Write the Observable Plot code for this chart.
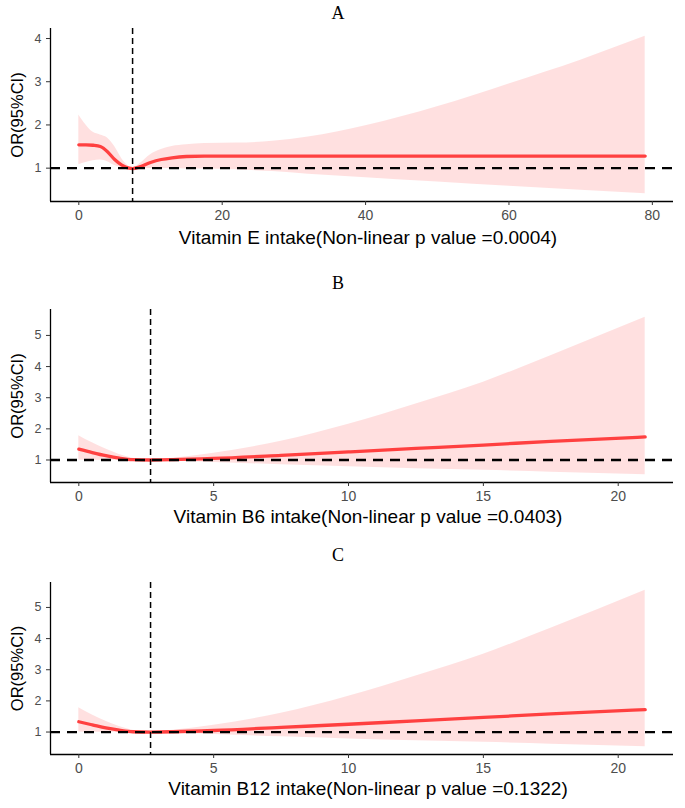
<!DOCTYPE html>
<html><head><meta charset="utf-8">
<script src="https://cdn.jsdelivr.net/npm/d3@7"></script>
<script src="https://cdn.jsdelivr.net/npm/@observablehq/plot@0.6"></script>
<style>body{margin:0;background:#fff} svg{display:block;overflow:visible}</style>
</head><body><div id="chart"></div>
<script>
// Panel A: Vitamin E
const aX  = [0, 1, 2, 3, 4, 5, 6, 7, 7.5, 8.5, 10, 11.5, 13, 15, 17.5, 22, 27, 32, 40, 50, 60, 70, 79];
const aOR = [1.54,1.54,1.53,1.50,1.38,1.20,1.07,1.00,0.99,1.03,1.13,1.20,1.24,1.27,1.28,1.28,1.28,1.28,1.28,1.28,1.28,1.28,1.28];
const aLo = [1.08,1.13,1.17,1.19,1.15,1.06,1.01,0.99,0.98,0.99,0.99,0.99,0.99,0.98,0.98,0.96,0.92,0.86,0.78,0.68,0.58,0.49,0.41];
const aHi = [2.23,2.00,1.83,1.77,1.70,1.50,1.22,1.04,1.00,1.10,1.31,1.43,1.50,1.54,1.57,1.58,1.62,1.72,1.98,2.42,2.95,3.50,4.05];
const aRef = 7.5;
// Panel B: Vitamin B6
const bX  = [0, 0.5, 1, 1.5, 2, 2.66, 3.5, 5, 7.5, 10, 12.5, 15, 17.5, 21];
const bOR = [1.35,1.24,1.14,1.06,1.01,1.00,1.01,1.05,1.15,1.26,1.37,1.48,1.60,1.74];
const bLo = [1.00,0.99,0.99,0.99,0.99,1.00,0.97,0.92,0.85,0.78,0.72,0.67,0.61,0.53];
const bHi = [1.78,1.55,1.35,1.18,1.06,1.00,1.06,1.22,1.60,2.15,2.80,3.50,4.35,5.58];
const bRef = 2.66;
// Panel C: Vitamin B12
const cX  = [0, 0.5, 1, 1.5, 2, 2.66, 3.5, 5, 7.5, 10, 12.5, 15, 17.5, 21];
const cOR = [1.33,1.23,1.13,1.06,1.01,1.00,1.01,1.05,1.15,1.25,1.36,1.47,1.58,1.72];
const cLo = [1.00,0.99,0.99,0.99,0.99,1.00,0.97,0.92,0.85,0.78,0.72,0.67,0.61,0.53];
const cHi = [1.78,1.55,1.35,1.18,1.06,1.00,1.06,1.22,1.60,2.15,2.80,3.50,4.33,5.55];
const cRef = 2.66;

const titles = ["A", "B", "C"];
const xLabels = [
  "Vitamin E intake(Non-linear p value =0.0004)",
  "Vitamin B6 intake(Non-linear p value =0.0403)",
  "Vitamin B12 intake(Non-linear p value =0.1322)"
];
const yLabel = "OR(95%CI)";
const aXTicks = [0, 20, 40, 60, 80], bXTicks = [0, 5, 10, 15, 20];
const aYTicks = [1, 2, 3, 4], bYTicks = [1, 2, 3, 4, 5];

function panel(o) {
  const data = o.xs.map((x, i) => ({x, or: o.or[i], lo: o.lo[i], hi: o.hi[i]}));
  const xmin = d3.min(o.xs), xmax = d3.max(o.xs), xp = (xmax - xmin) * 0.05;
  const ymin = d3.min(o.lo), ymax = d3.max(o.hi), yp = (ymax - ymin) * 0.05;
  const x0 = xmin - xp, y0 = ymin - yp;
  return Plot.plot({
    width: 685, height: o.height,
    marginLeft: 50, marginRight: 12, marginTop: o.mt, marginBottom: o.mb,
    style: {fontFamily: "'Liberation Sans', Arial, sans-serif", fontSize: "13px", color: "#4d4d4d", background: "#fff", overflow: "visible"},
    x: {domain: [x0, xmax + xp], ticks: o.xticks, tickFormat: d => String(d), label: null},
    y: {domain: [y0, ymax + yp], ticks: o.yticks, tickFormat: d => String(d), label: null},
    marks: [
      Plot.areaY(data, {x: "x", y1: "lo", y2: "hi", fill: "#ff0000", fillOpacity: 0.12, curve: "monotone-x"}),
      Plot.line(data, {x: "x", y: "or", stroke: "#ff4040", strokeWidth: 3.3, curve: "monotone-x"}),
      Plot.ruleY([1], {stroke: "black", strokeWidth: 2.3, strokeDasharray: "10,7"}),
      Plot.ruleX([o.ref], {stroke: "black", strokeWidth: 1.5, strokeDasharray: "6,4"}),
      Plot.ruleX([x0], {stroke: "black", strokeWidth: 1.3}),
      Plot.ruleY([y0], {stroke: "black", strokeWidth: 1.3}),
      Plot.axisX({ticks: o.xticks, tickFormat: d => String(d), tickSize: 4, tickPadding: 5, fontSize: 14, stroke: "#333", fill: "#4d4d4d", label: null}),
      Plot.axisY({ticks: o.yticks, tickFormat: d => String(d), tickSize: 4, tickPadding: 5, fontSize: 12.5, stroke: "#333", fill: "#4d4d4d", label: null}),
      Plot.text([o.title], {text: d => d, frameAnchor: "top", dx: -24, dy: o.tdy, lineAnchor: "middle", textAnchor: "middle",
        fontFamily: "'Liberation Serif', 'Times New Roman', serif", fontSize: 18, fill: "black"}),
      Plot.text([o.xlab], {text: d => d, frameAnchor: "bottom", dx: 6, dy: o.ldy, lineAnchor: "middle", textAnchor: "middle", fontSize: 19, fill: "black"}),
      Plot.text([yLabel], {text: d => d, frameAnchor: "left", dx: -33, rotate: -90, lineAnchor: "middle", textAnchor: "middle", fontSize: 16.5, fill: "black"})
    ]
  });
}

const root = document.getElementById("chart");
root.append(panel({title: titles[0], xs: aX, or: aOR, lo: aLo, hi: aHi, ref: aRef, xlab: xLabels[0],
  xticks: aXTicks, yticks: aYTicks, height: 250, mt: 28, mb: 49, tdy: -15, ldy: 36}));
root.append(panel({title: titles[1], xs: bX, or: bOR, lo: bLo, hi: bHi, ref: bRef, xlab: xLabels[1],
  xticks: bXTicks, yticks: bYTicks, height: 281, mt: 59, mb: 49, tdy: -26, ldy: 34}));
root.append(panel({title: titles[2], xs: cX, or: cOR, lo: cLo, hi: cHi, ref: cRef, xlab: xLabels[2],
  xticks: bXTicks, yticks: bYTicks, height: 277, mt: 51, mb: 54, tdy: -27, ldy: 34}));
</script></body></html>
